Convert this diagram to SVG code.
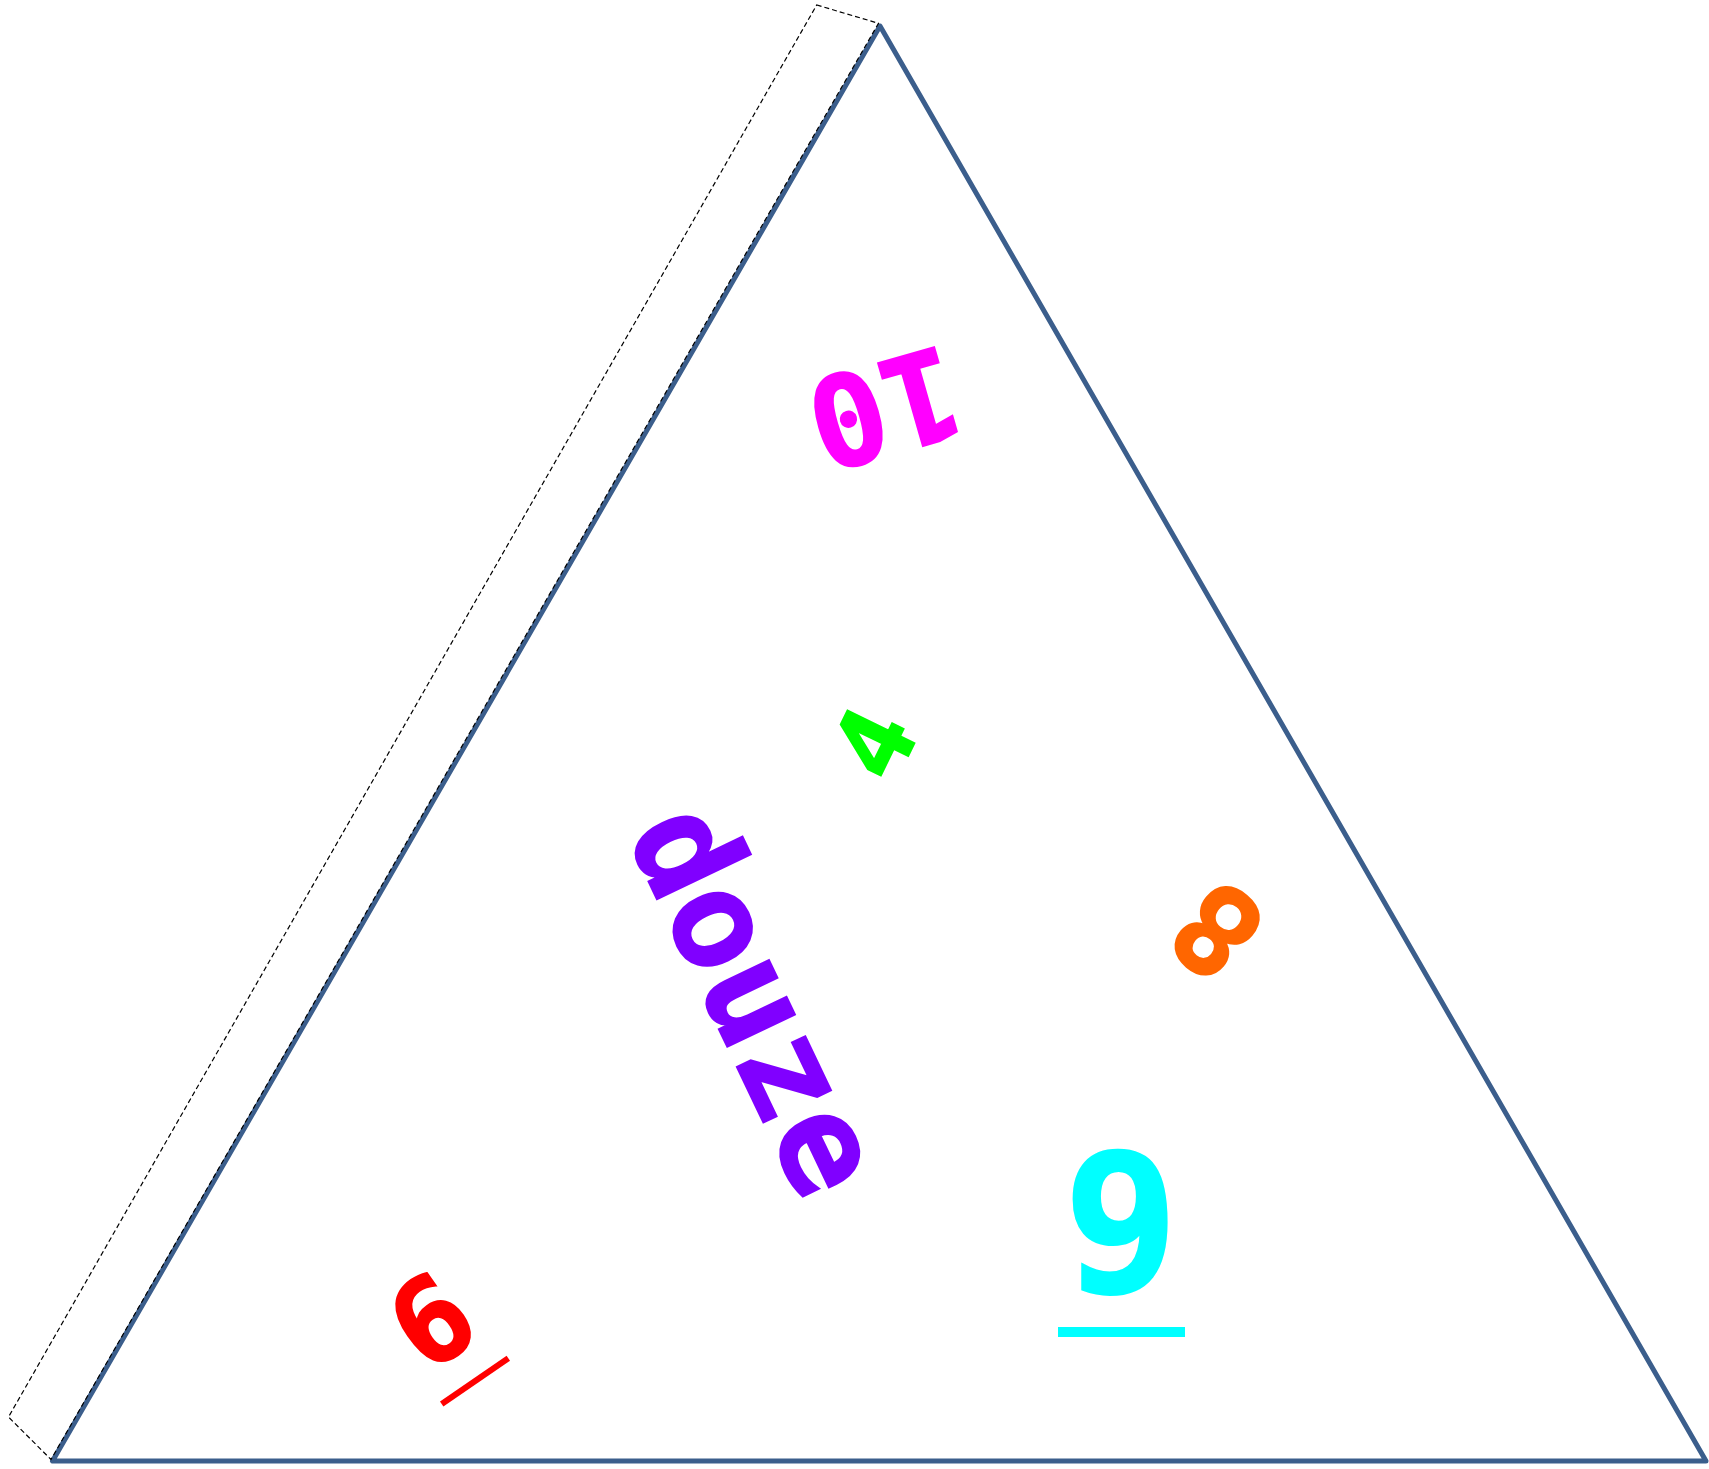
<svg xmlns="http://www.w3.org/2000/svg" width="1709" height="1469" viewBox="0 0 1709 1469">
<style>
.num{font-family:"DejaVu Sans Mono","Liberation Mono",monospace;font-weight:bold;text-anchor:middle;stroke-width:2;stroke-linejoin:miter}
.tri{fill:none;stroke:#3b5e8c;stroke-width:5;stroke-linejoin:round}
.dash{fill:none;stroke:#000;stroke-width:1.2;stroke-dasharray:5 3}
</style>
<rect width="1709" height="1469" fill="#fff"/>
<g id="triangle">
<polygon class="tri" points="880,26 52.5,1461 1706,1461"/>
</g>
<g id="connectors">
<polygon class="dash" points="816.7,5 878.5,23.3 51,1459.5 8.5,1417"/>
</g>
<g id="n10" transform="translate(885,409) rotate(164)">
<text class="num" x="0" y="45.9" font-size="126" fill="#ff00ff" stroke="#ff00ff">10</text>
</g>
<g id="n4" transform="translate(873,743) rotate(-64)">
<text class="num" x="0" y="37.2" font-size="102" fill="#00ff00" stroke="#00ff00">4</text>
</g>
<g id="douze" transform="translate(748,1004) rotate(64.5)">
<text class="num" x="0" y="37" font-size="137" fill="#8000ff" stroke="#8000ff">douze</text>
</g>
<g id="n8" transform="translate(1216.5,931.5) rotate(-140)">
<text class="num" x="0" y="45" font-size="123" fill="#ff6600" stroke="#ff6600">8</text>
</g>
<g id="n9">
<text class="num" x="1121" y="1291" font-size="192" fill="#00ffff" stroke="#00ffff">9</text>
<rect x="1058" y="1327" width="127" height="10" fill="#00ffff"/>
</g>
<g id="n6">
<g transform="translate(431,1320) rotate(-35)">
<text class="num" x="0" y="42.6" font-size="117" fill="#ff0000" stroke="#ff0000">6</text>
</g>
<line x1="441.7" y1="1404" x2="508.3" y2="1358.3" stroke="#ff0000" stroke-width="6"/>
</g>
</svg>
